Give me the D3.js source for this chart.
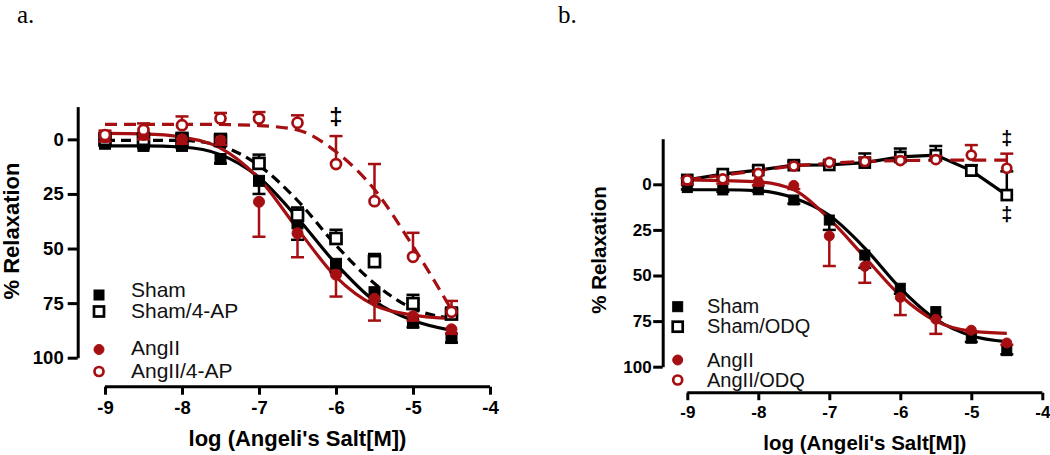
<!DOCTYPE html>
<html><head><meta charset="utf-8">
<script src="https://cdn.jsdelivr.net/npm/d3@7/dist/d3.min.js"></script>
<style>
html,body{margin:0;padding:0;background:#fff;}
svg{display:block;}
</style></head>
<body><svg id="chart" width="1050" height="455"></svg>
<script>
// ---------- data ----------
const doses = [-9, -8.5, -8, -7.5, -7, -6.5, -6, -5.5, -5, -4.5];
const xTicks = [-9, -8, -7, -6, -5, -4];
const yTicks = [0, 25, 50, 75, 100];
const xTitle = "log (Angeli's Salt[M])";
const yTitle = "% Relaxation";

// panel a
const legendA = ["Sham", "Sham/4-AP", "AngII", "AngII/4-AP"];
const shamA      = [2, 3, 3, 9, 19, 38.5, 57, 70, 84, 91];
const shamErrA   = [1, 1, 1, 2, 6, 7.5, 4, 4, 2, 2];
const sham4apA   = [0, 0, 0, 0.5, 11, 34.7, 45.4, 56, 75.2, 80];
const sham4apErrA= [3, 3, 3, 3, 4, 3.5, 4, 3.5, 4, 3];
const angA       = [-1, -2, 0, 0.5, 28.6, 43, 62, 73, 81, 87];
const angErrA    = [2, 2, 2, 2, 16, 11, 10, 10, 2, 2];
const ang4apA    = [-2, -4.3, -6.5, -9.6, -9.5, -7.6, 11.3, 28.3, 53.8, 79];
const ang4apErrA = [2, 3, 4, 2.5, 3, 3.4, 12.8, 17, 11, 5];
// fitted curves (at each dose)
const shamFitA   = [3, 3, 3.5, 7, 17.5, 36, 57, 74, 83, 87.5];
const sham4apFitA= [0.5, 0.5, 0.5, 3, 12, 28, 48.5, 66, 77.5, 82];
const angFitA    = [-2.7, -2.5, -1, 4, 18, 41, 63, 76, 80.5, 82];
const ang4apFitA = [-6.9, -6.9, -6.9, -6.8, -6.3, -4.3, 5.7, 23, 49, 78];
const daggerA = [{x: -6, y: -10}];

// panel b
const legendB = ["Sham", "Sham/ODQ", "AngII", "AngII/ODQ"];
const shamB      = [1.8, 3.1, 3, 8.6, 19.6, 38.8, 57, 69.8, 84.4, 91.2];
const shamErrB   = [1, 1, 1, 2, 5.4, 7, 3, 3, 2, 2];
const shamOdqB   = [-2.4, -5.6, -7.8, -10.5, -10.6, -11.9, -15, -16, -7.5, 5.9];
const shamOdqErrB= [1, 1, 2, 2, 2, 5, 4.6, 5, 3, 13];
const angB       = [-2, -2.4, -1.4, 0.6, 28.3, 45, 62, 74, 80, 87];
const angErrB    = [2, 2, 2, 2, 16.5, 9, 9.7, 8, 1, 1];
const angOdqB    = [-2.4, -3, -6, -10, -12, -12.5, -13, -13.5, -16, -8.8];
const angOdqErrB = [1, 1, 1, 1, 1, 2, 2, 2, 5.5, 8];
const shamFitB   = [3, 3, 3.5, 7.5, 17, 35, 57, 74, 83, 86.3];
const angFitB    = [-2.4, -2, -1.4, 3, 19, 40, 61, 75, 80.5, 81.7];
const angOdqFitB = [-2.4, -5, -7.5, -10, -11.5, -12.5, -13, -13.2, -13.2, -13.2];
const daggerB = [{x: -4.5, y: -24.7}, {x: -4.5, y: 16.8}];

// ---------- drawing ----------
const RED = "#a50f12";
const svg = d3.select("#chart");
const FONT = "'Liberation Sans', Arial, sans-serif";

function zip(vals, errs){ return doses.map((d,i)=>({x:d, y:vals[i], e: errs ? errs[i] : 0})); }

function panel(cfg){
  const g = svg.append("g");
  const x = d3.scaleLinear().domain([-9,-4]).range(cfg.xr);
  const y = d3.scaleLinear().domain(cfg.yd).range(cfg.yr);

  // axes
  const xa = d3.axisBottom(x).tickValues(xTicks).tickFormat(d => String(d))
      .tickSize(cfg.xtick).tickSizeOuter(0).tickPadding(cfg.xpad);
  const ya = d3.axisLeft(y).tickValues(yTicks).tickFormat(d => String(d))
      .tickSize(cfg.ytick).tickSizeOuter(0).tickPadding(cfg.ypad);
  const gx = g.append("g").attr("transform", `translate(0,${cfg.xAxisY})`).call(xa);
  const gy = g.append("g").attr("transform", `translate(${cfg.yAxisX},0)`).call(ya);
  [gx, gy].forEach(a=>{
    a.selectAll("path.domain").attr("stroke","#000").attr("stroke-width",3);
    a.selectAll(".tick line").attr("stroke","#000").attr("stroke-width",3);
    a.selectAll(".tick text").attr("fill","#000").style("font-family",FONT)
      .style("font-weight","bold").style("font-size",cfg.tickFs+"px");
  });
  gx.select("path.domain").attr("d", `M${cfg.xr[0]},0H${cfg.xr[1]}`);

  // titles
  g.append("text").attr("x", (cfg.xr[0]+cfg.xr[1])/2).attr("y", cfg.xTitleY)
    .attr("text-anchor","middle").style("font-family",FONT).style("font-weight","bold")
    .style("font-size",cfg.titleFs+"px").text(xTitle);
  g.append("text").attr("transform",`translate(${cfg.yTitleX},${cfg.yTitleCY}) rotate(-90)`)
    .attr("text-anchor","middle").style("font-family",FONT).style("font-weight","bold")
    .style("font-size",cfg.titleFs+"px").text(yTitle);
  g.append("text").attr("x", cfg.labelX).attr("y", 23)
    .style("font-family","'Liberation Serif', 'Times New Roman', serif")
    .style("font-size","25px").text(cfg.label);

  const line = d3.line().x(d=>x(d.x)).y(d=>y(d.y));
  const smooth = d3.line().x(d=>x(d.x)).y(d=>y(d.y)).curve(d3.curveMonotoneX);

  // curves
  cfg.curves.forEach(c=>{
    g.append("path").datum(zip(c.vals)).attr("d", c.straight ? line : smooth)
      .attr("fill","none").attr("stroke",c.color).attr("stroke-width",3.2)
      .attr("stroke-dasharray", c.dash || null);
  });

  // series: error bars then markers
  cfg.series.forEach(s=>{
    const pts = zip(s.vals, s.errs);
    const eb = g.append("g").attr("stroke", s.color).attr("stroke-width", 2.5);
    pts.forEach(p=>{
      const yEnd = y(p.y + s.dir*p.e);
      eb.append("line").attr("x1",x(p.x)).attr("x2",x(p.x)).attr("y1",y(p.y)).attr("y2",yEnd);
      eb.append("line").attr("x1",x(p.x)-6.5).attr("x2",x(p.x)+6.5).attr("y1",yEnd).attr("y2",yEnd);
    });
    drawMarkers(g, pts.map(p=>[x(p.x), y(p.y)]), s, cfg.msize);
  });

  // legend
  cfg.legend.forEach((L,i)=>{
    const s = cfg.series[i];
    drawMarkers(g, [[cfg.legX, L.my]], s, cfg.lsize);
    g.append("text").attr("x", cfg.legTX).attr("y", L.ty)
      .style("font-family",FONT).style("font-size",cfg.legFs+"px").attr("fill","#111")
      .text(L.name);
  });

  // significance marks
  cfg.daggers.forEach(d=>{
    g.append("text").attr("x", x(d.x)).attr("y", y(d.y)).attr("dy","0.3em")
      .attr("text-anchor","middle").attr("fill","#000").style("font-family",FONT)
      .style("font-weight","bold")
      .style("font-size",cfg.dagFs+"px").text("\u2021");
  });
}

function drawMarkers(g, pts, s, size){
  pts.forEach(([px,py])=>{
    if (s.shape === "square"){
      const h = size/2;
      g.append("rect").attr("x",px-h).attr("y",py-h).attr("width",size).attr("height",size)
        .attr("fill", s.open ? "#fff" : s.color).attr("stroke", s.color)
        .attr("stroke-width", s.open ? 2.7 : 1);
    } else {
      const r = size/2 - (s.open ? 0.5 : 0);
      g.append("circle").attr("cx",px).attr("cy",py).attr("r",r)
        .attr("fill", s.open ? "#fff" : s.color).attr("stroke", s.color)
        .attr("stroke-width", s.open ? 2.7 : 1);
    }
  });
}

panel({
  label:"a.", labelX:17,
  xr:[105,490], yd:[-15,100], yr:[106.6,357.7],
  xAxisY:386.7, yAxisX:77.7, xtick:8, xpad:6, ytick:10, ypad:4,
  tickFs:18.5, titleFs:22, xTitleY:446, yTitleX:18.5, yTitleCY:231,
  msize:11, lsize:10, legX:99, legTX:131, legFs:21, dagFs:24,
  curves:[
    {vals:shamFitA, color:"#000"},
    {vals:sham4apFitA, color:"#000", dash:"10,6"},
    {vals:angFitA, color:RED},
    {vals:ang4apFitA, color:RED, dash:"12,7"}
  ],
  series:[
    {vals:shamA, errs:shamErrA, color:"#000", shape:"square", open:false, dir:1},
    {vals:sham4apA, errs:sham4apErrA, color:"#000", shape:"square", open:true, dir:-1},
    {vals:angA, errs:angErrA, color:RED, shape:"circle", open:false, dir:1},
    {vals:ang4apA, errs:ang4apErrA, color:RED, shape:"circle", open:true, dir:-1}
  ],
  legend:[
    {name:legendA[0], my:295, ty:296.5},
    {name:legendA[1], my:311.5, ty:318},
    {name:legendA[2], my:349.5, ty:355},
    {name:legendA[3], my:371.5, ty:378}
  ],
  daggers: daggerA
});

panel({
  label:"b.", labelX:558,
  xr:[687.3,1042.3], yd:[-25,100], yr:[138.7,366.7],
  xAxisY:392.7, yAxisX:662.7, xtick:7.5, xpad:6, ytick:9.5, ypad:1.5,
  tickFs:17, titleFs:20.5, xTitleY:450, yTitleX:606, yTitleCY:250,
  msize:10, lsize:10, legX:677.7, legTX:707, legFs:20, dagFs:20,
  curves:[
    {vals:shamFitB, color:"#000"},
    {vals:shamOdqB, color:"#000", straight:true},
    {vals:angFitB, color:RED},
    {vals:angOdqFitB, color:RED, dash:"14,8"}
  ],
  series:[
    {vals:shamB, errs:shamErrB, color:"#000", shape:"square", open:false, dir:1},
    {vals:shamOdqB, errs:shamOdqErrB, color:"#000", shape:"square", open:true, dir:-1},
    {vals:angB, errs:angErrB, color:RED, shape:"circle", open:false, dir:1},
    {vals:angOdqB, errs:angOdqErrB, color:RED, shape:"circle", open:true, dir:-1}
  ],
  legend:[
    {name:legendB[0], my:306.7, ty:313},
    {name:legendB[1], my:326.7, ty:333},
    {name:legendB[2], my:360, ty:366.5},
    {name:legendB[3], my:380, ty:386.5}
  ],
  daggers: daggerB
});
</script></body></html>
